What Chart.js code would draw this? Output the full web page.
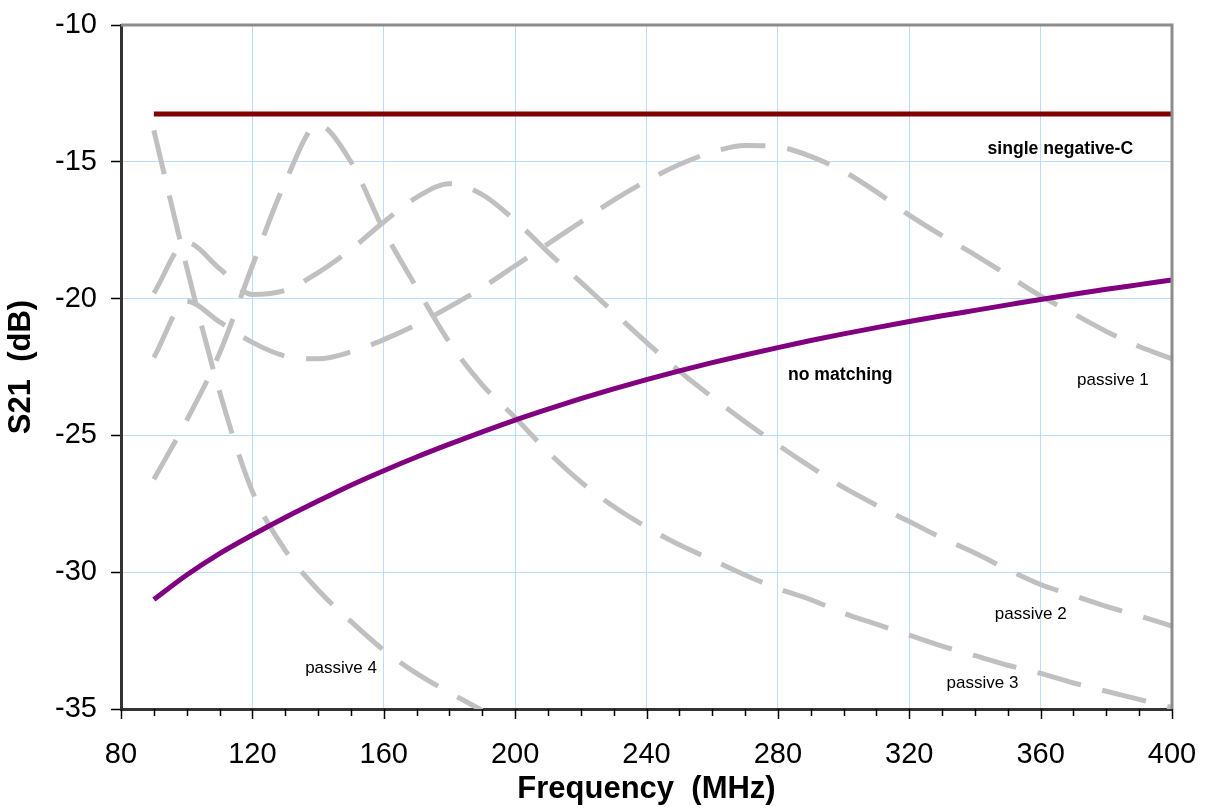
<!DOCTYPE html>
<html>
<head>
<meta charset="utf-8">
<script src="https://cdn.jsdelivr.net/npm/chart.js@4/dist/chart.umd.min.js"></script>
<style>
html,body{margin:0;padding:0;background:#fff;}
#wrap{width:1206px;height:808px;}
</style>
</head>
<body>
<div id="wrap"><canvas id="c" width="1206" height="808"></canvas></div>
<script>
// ---- data (frequency in MHz, S21 in dB) ----
const freq = [90,100,110,120,130,140,150,160,170,180,190,200,210,220,230,240,250,260,270,280,290,300,310,320,330,340,350,360,370,380,390,400];
const singleNegC = [-13.25,-13.25,-13.25,-13.25,-13.25,-13.25,-13.25,-13.25,-13.25,-13.25,-13.25,-13.25,-13.25,-13.25,-13.25,-13.25,-13.25,-13.25,-13.25,-13.25,-13.25,-13.25,-13.25,-13.25,-13.25,-13.25,-13.25,-13.25,-13.25,-13.25,-13.25,-13.25];
const noMatching = [-31.0,-30.1,-29.32,-28.64,-28.0,-27.4,-26.82,-26.29,-25.79,-25.32,-24.87,-24.44,-24.04,-23.66,-23.3,-22.96,-22.64,-22.34,-22.06,-21.79,-21.53,-21.29,-21.06,-20.84,-20.63,-20.43,-20.23,-20.03,-19.84,-19.66,-19.49,-19.32];
const passive1 = [-22.15,-20.1,-20.85,-21.6,-22.1,-22.2,-21.95,-21.5,-20.95,-20.3,-19.6,-18.8,-18.0,-17.2,-16.4,-15.7,-15.1,-14.65,-14.4,-14.45,-14.8,-15.35,-16.1,-16.95,-17.7,-18.4,-19.15,-19.9,-20.55,-21.2,-21.75,-22.2];
const passive2 = [-19.8,-17.95,-18.9,-19.85,-19.7,-19.05,-18.2,-17.2,-16.3,-15.8,-16.2,-17.15,-18.3,-19.4,-20.5,-21.6,-22.65,-23.6,-24.5,-25.35,-26.15,-26.9,-27.55,-28.15,-28.75,-29.3,-29.9,-30.45,-30.85,-31.25,-31.6,-31.97];
const passive3 = [-26.6,-24.45,-22.0,-18.8,-15.75,-13.65,-15.0,-17.5,-19.6,-21.6,-23.15,-24.35,-25.6,-26.7,-27.6,-28.35,-29.0,-29.55,-30.1,-30.6,-31.0,-31.5,-31.9,-32.3,-32.7,-33.05,-33.4,-33.7,-34.05,-34.35,-34.65,-34.95];
const freqP4 = [90,100,110,120,130,140,150,160,170,180,190];
const passive4 = [-13.85,-18.85,-23.4,-27.05,-29.2,-30.65,-31.8,-32.85,-33.7,-34.4,-35.05];

const xTickValues = [80,120,160,200,240,280,320,360,400];
const yTickValues = [-35,-30,-25,-20,-15,-10];

// in-chart text labels (anchored in data coordinates)
const noteText = ['single negative-C','no matching','passive 1','passive 2','passive 3','passive 4'];
const noteFreq = [366,299,382,357,342.3,147];
const noteDb   = [-14.53,-22.8,-23.0,-31.55,-34.05,-33.5];
const noteBold = [true,true,false,false,false,false];

const FONT = "'Liberation Sans', Arial, Helvetica, sans-serif";
const pts = (xs, ys) => xs.map((x,i)=>({x:x, y:ys[i]}));
const GREY = '#c0c0c0';
const dash = [45,22];

function greyLine(label, xs, ys){
  return {label, data: pts(xs,ys), borderColor: GREY, borderWidth: 5, borderDash: dash,
          borderCapStyle:'butt', pointRadius:0, fill:false, cubicInterpolationMode:'monotone', order: 5};
}

const annotPlugin = {
  id:'annot',
  afterDatasetsDraw(chart){
    const ctx = chart.ctx, xs = chart.scales.x, ys = chart.scales.y, a = chart.chartArea;
    ctx.save();
    // top & right borders
    ctx.strokeStyle = '#8c8c8c'; ctx.lineWidth = 3;
    ctx.beginPath();
    ctx.moveTo(a.left, a.top); ctx.lineTo(a.right, a.top); ctx.lineTo(a.right, a.bottom);
    ctx.stroke();
    // x-axis major/minor tick marks
    ctx.strokeStyle = '#000'; ctx.lineWidth = 1.5;
    for (let v = 80; v <= 400; v += 10){
      const px = Math.round(xs.getPixelForValue(v)) + 0.5;
      const len = (v % 40 === 0) ? 10 : 7;
      ctx.beginPath(); ctx.moveTo(px, a.bottom); ctx.lineTo(px, a.bottom + len); ctx.stroke();
    }
    // notes
    ctx.fillStyle = '#000'; ctx.textAlign = 'center'; ctx.textBaseline = 'middle';
    noteText.forEach((t,i)=>{
      ctx.font = noteBold[i] ? ('bold 17.6px ' + FONT) : ('17px ' + FONT);
      ctx.fillText(t, xs.getPixelForValue(noteFreq[i]), ys.getPixelForValue(noteDb[i]));
    });
    ctx.restore();
  }
};

new Chart(document.getElementById('c'), {
  type:'line',
  data:{
    datasets:[
      {label:'single negative-C', data: pts(freq, singleNegC), borderColor:'#800000', borderWidth:5,
       pointRadius:0, fill:false, borderCapStyle:'butt', order:0},
      {label:'no matching', data: pts(freq, noMatching), borderColor:'#800080', borderWidth:5,
       pointRadius:0, fill:false, cubicInterpolationMode:'monotone', borderCapStyle:'butt', order:1},
      greyLine('passive 1', freq, passive1),
      greyLine('passive 2', freq, passive2),
      greyLine('passive 3', freq, passive3),
      greyLine('passive 4', freqP4, passive4)
    ]
  },
  options:{
    responsive:false,
    animation:false,
    devicePixelRatio:1,
    layout:{padding:{top:25, right:34, left:0, bottom:0}},
    plugins:{legend:{display:false}, tooltip:{enabled:false}},
    scales:{
      x:{
        type:'linear', min:80, max:400,
        afterFit(s){ s.height = 99; s.paddingLeft = 0; s.paddingRight = 0; },
        afterBuildTicks(s){ s.ticks = xTickValues.map(v=>({value:v})); },
        ticks:{autoSkip:false, maxRotation:0, padding:29, color:'#000',
               font:{family:FONT, size:29}, callback:v=>String(v)},
        grid:{drawTicks:false,
              color:c=> (c.tick && c.tick.value>80 && c.tick.value<400) ? '#bcdcff' : 'rgba(0,0,0,0)',
              lineWidth:1},
        border:{display:true, color:'#333', width:3},
        title:{display:true, text:'Frequency  (MHz)', color:'#000',
               font:{family:FONT, size:31, weight:'bold'}, padding:{top:0,bottom:0}}
      },
      y:{
        type:'linear', min:-35, max:-10,
        afterFit(s){ s.width = 121; s.paddingTop = 0; s.paddingBottom = 0; },
        afterBuildTicks(s){ s.ticks = yTickValues.map(v=>({value:v})); },
        ticks:{padding:14, color:'#000', font:{family:FONT, size:29}, callback:v=>String(v)},
        grid:{drawTicks:true, tickLength:10, tickColor:'#000', tickWidth:1.5,
              color:c=> (c.tick && c.tick.value>-35 && c.tick.value<-10) ? '#bcdcff' : 'rgba(0,0,0,0)',
              lineWidth:1},
        border:{display:true, color:'#333', width:3},
        title:{display:true, text:'S21  (dB)', color:'#000',
               font:{family:FONT, size:31, weight:'bold'}, padding:{top:3,bottom:0}}
      }
    }
  },
  plugins:[annotPlugin]
});
</script>
</body>
</html>
